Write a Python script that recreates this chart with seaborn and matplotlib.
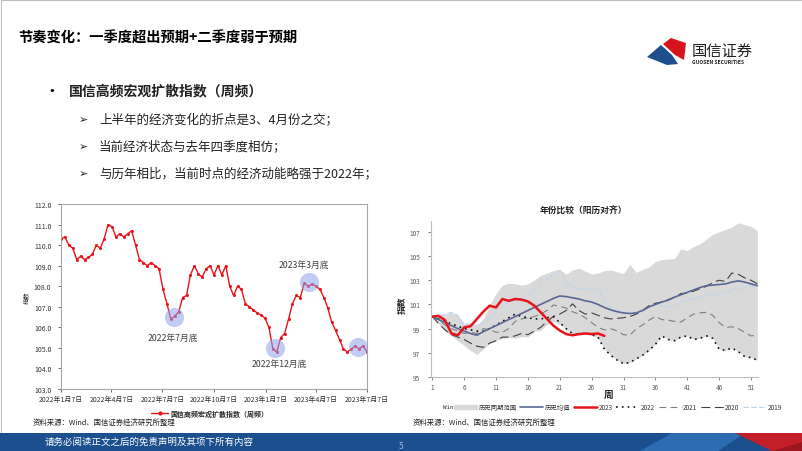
import numpy as np
import pandas as pd
import seaborn as sns
import matplotlib.pyplot as plt
from matplotlib.patches import Polygon, Rectangle, Patch
from matplotlib.lines import Line2D

W, H = 802, 452

# ---- left chart: weekly diffusion index ----
start_date = '2022-01-07'
diffusion = [110.3, 110.4, 110.0, 109.85, 109.3, 109.45, 109.3, 109.4, 109.55, 110.0,
             109.85, 110.3, 111.0, 110.9, 110.4, 110.55, 110.4, 110.55, 110.7, 110.0,
             109.3, 109.15, 109.0, 109.15, 109.0, 108.85, 107.85, 107.15, 106.4, 106.55,
             106.75, 107.45, 107.55, 108.55, 109.0, 108.6, 108.45, 108.85, 109.0, 108.55,
             109.0, 108.55, 109.0, 108.0, 107.55, 108.0, 107.85, 107.15, 107.0, 106.85,
             106.7, 106.6, 106.45, 106.0, 104.95, 104.8, 105.5, 105.7, 106.4, 107.15,
             107.55, 107.45, 108.15, 108.0, 108.1, 108.0, 107.85, 107.45, 106.95, 106.25,
             105.85, 105.4, 104.95, 104.8, 104.95, 105.1, 104.95, 105.1, 104.8]
left_tick_dates = ['2022-01-07', '2022-04-07', '2022-07-07', '2022-10-07',
                   '2023-01-07', '2023-04-07', '2023-07-07']
left_tick_labels = ['2022年1月7日', '2022年4月7日', '2022年7月7日', '2022年10月7日',
                    '2023年1月7日', '2023年4月7日', '2023年7月7日']
circle_dates = ['2022-07-27', '2023-01-23', '2023-03-26', '2023-06-21']
circle_vals = [106.52, 105.0, 108.22, 105.03]
note_texts = ['2022年7月底', '2022年12月底', '2023年3月底']
note_dates = ['2022-07-25', '2023-02-01', '2023-03-17']
note_vals = [105.5, 104.27, 109.05]

# ---- right chart: year comparison by week ----
weeks = list(range(1, 53))
band_upper = [100.0, 100.1, 100.2, 100.35, 100.1, 99.4, 99.45, 99.3, 99.8, 100.95,
              101.9, 102.6, 102.75, 102.7, 102.6, 102.7, 103.0, 103.4, 103.6, 103.8,
              103.9, 103.5, 103.85, 104.0, 103.75, 103.5, 103.6, 103.8, 103.85, 103.7,
              103.55, 104.3, 103.65, 103.9, 104.1, 104.55, 104.7, 104.75, 104.8, 105.6,
              105.45, 105.8, 106.0, 106.4, 106.8, 107.0, 107.2, 107.4, 107.75, 107.6,
              107.45, 107.1]
band_lower = [100.0, 99.4, 98.8, 98.4, 98.0, 97.6, 97.2, 96.85, 97.3, 97.8,
              98.0, 98.2, 98.25, 98.2, 98.35, 98.3, 98.75, 98.85, 99.35, 99.6,
              99.35, 98.95, 98.55, 98.45, 98.55, 98.45, 98.25, 97.3, 96.8, 96.4,
              96.1, 96.2, 96.5, 96.8, 97.2, 97.7, 98.4, 98.1, 98.0, 98.3,
              98.4, 98.1, 98.2, 98.4, 98.2, 97.3, 97.2, 97.4, 97.1, 96.7,
              96.6, 96.4]
hist_mean = [100.0, 99.75, 99.5, 99.25, 99.0, 98.8, 98.6, 98.45, 98.75, 99.0,
             99.25, 99.5, 99.75, 100.0, 100.25, 100.5, 100.75, 101.0, 101.25, 101.5,
             101.7, 101.65, 101.55, 101.45, 101.3, 101.2, 101.0, 100.75, 100.55, 100.4,
             100.3, 100.25, 100.3, 100.5, 100.8, 101.0, 101.2, 101.35, 101.6, 101.8,
             102.0, 102.2, 102.4, 102.55, 102.6, 102.65, 102.7, 102.85, 102.95, 102.85,
             102.7, 102.55]
y2023 = [100.0, 100.05, 99.7, 98.6, 98.45, 99.1, 99.2, 99.8, 100.4, 100.9,
         100.75, 101.45, 101.3, 101.45, 101.4, 101.25, 100.9, 100.35, 99.8, 99.25,
         98.85, 98.55, 98.45, 98.55, 98.6, 98.55, 98.6, 98.4]
y2022 = [100.0, 99.8, 99.6, 99.4, 99.2, 99.0, 98.9, 98.8, 98.8, 99.0,
         99.3, 99.6, 99.9, 100.2, 100.0, 99.9, 99.8, 99.8, 99.9, 100.0,
         99.5, 99.0, 98.6, 98.5, 98.6, 98.5, 98.3, 97.3, 96.8, 96.4,
         96.1, 96.2, 96.5, 96.8, 97.2, 97.7, 98.4, 98.1, 98.0, 98.3,
         98.4, 98.1, 98.2, 98.4, 98.2, 97.3, 97.2, 97.4, 97.1, 96.7,
         96.6, 96.4]
y2021 = [100.0, 99.7, 99.3, 99.0, 98.8, 98.6, 98.7, 98.6, 99.0, 98.9,
         98.7, 98.7, 99.0, 99.6, 99.8, 99.9, 100.0, 100.2, 100.5, 100.95,
         100.85, 100.7, 100.4, 100.2, 99.9, 99.5, 99.1, 98.9, 99.0, 98.8,
         98.5, 98.45, 99.0, 99.3, 99.7, 100.0, 99.75, 99.7, 99.6, 99.55,
         99.9, 100.2, 100.3, 100.35, 100.1, 99.5, 99.1, 99.15, 99.0, 98.7,
         98.4, 98.45]
y2020 = [100.0, 99.4, 98.9, 98.5, 98.3, 98.1, 97.8, 97.55, 97.45, 97.8,
         98.0, 98.3, 98.3, 98.4, 98.6, 98.5, 98.8, 99.1, 99.6, 100.0,
         100.2, 100.5, 101.05, 100.5, 100.2, 100.3, 100.1, 99.9, 99.8, 99.85,
         99.9, 100.0, 100.2, 100.5, 100.9, 101.1, 101.2, 101.4, 101.6, 101.9,
         101.95, 102.1, 102.3, 102.5, 102.8, 103.0, 102.9, 103.6, 103.5, 103.2,
         103.0, 102.7]
y2019 = [100.0, 100.1, 100.2, 100.35, 100.1, 99.35, 99.4, 99.25, 99.5, 99.8,
         100.4, 100.9, 101.2, 101.3, 101.5, 101.8, 102.2, 102.7, 103.1, 103.5,
         103.8, 103.0, 102.4, 102.3, 102.3, 102.4, 102.3, 101.3, 100.7, 100.5,
         100.4, 100.3, 100.3, 100.6, 100.8, 101.0, 100.9, 100.8, 100.9, 101.2,
         101.4, 101.5, 101.6, 101.7, 101.8, 101.9, 102.0, 102.2, 102.3, 102.4,
         102.5, 102.6]
right_xticks = list(range(1, 52, 5))
right_yticks = list(range(95, 108, 2))

RED = '#E8141B'
GRAY_TXT = '#595959'

sns.set_theme(style='white')
plt.rcParams['font.family'] = ['Noto Sans CJK SC', 'DejaVu Sans']
plt.rcParams['axes.unicode_minus'] = False

fig = plt.figure(figsize=(W / 100, H / 100), dpi=100)

# background layer in pixel coordinates
bg = fig.add_axes([0, 0, 1, 1])
bg.set_xlim(0, W)
bg.set_ylim(H, 0)
bg.axis('off')
bg.add_patch(Rectangle((0.5, 0.5), W - 1, H - 1, fill=False, ec='#BFBFBF', lw=0.8))

bg.text(18, 39, '节奏变化：一季度超出预期+二季度弱于预期', fontsize=10.3, weight='bold',
        va='center', ha='left', color='black')

# logo
bg.add_patch(Polygon([(647, 58), (661, 46), (672, 56), (678, 65), (667, 66)],
                     closed=True, color='#1F4E8C', lw=0))
bg.add_patch(Polygon([(663, 45), (671, 39), (686, 44), (684, 61), (675, 56)],
                     closed=True, color='#D7141E', lw=0))
bg.text(692, 51, '国信证券', fontsize=11, va='center', ha='left', color='#222222')
bg.text(692, 62, 'GUOSEN SECURITIES', fontsize=3.6, weight='bold', va='center',
        ha='left', color='#222222')

# bullets
bg.text(52, 91, '•', fontsize=12, va='center', ha='center', color='black')
bg.text(69, 91, '国信高频宏观扩散指数（周频）', fontsize=10, weight='bold', va='center',
        ha='left', color='#222222')
bullet_lines = ['上半年的经济变化的折点是3、4月份之交；', '当前经济状态与去年四季度相仿；',
                '与历年相比，当前时点的经济动能略强于2022年；']
for i, line in enumerate(bullet_lines):
    yy = 120 + i * 27
    bg.text(83, yy, '➢', fontsize=8, va='center', ha='center', color='#222222',
            family=['DejaVu Sans'])
    bg.text(99, yy, line, fontsize=9, va='center', ha='left', color='#222222')

# sources
bg.text(33, 423, '资料来源：Wind、国信证券经济研究所整理', fontsize=5.3, va='center',
        ha='left', color='#222222')
bg.text(413, 423, '资料来源：Wind、国信证券经济研究所整理', fontsize=5.3, va='center',
        ha='left', color='#222222')

# footer
bg.add_patch(Rectangle((0, 434), W, 18, color='#1B4F8E', lw=0))
bg.add_patch(Polygon([(640, 452), (672, 434), (745, 434), (718, 452)], closed=True,
                     color='#2D6CB0', lw=0))
bg.add_patch(Polygon([(735, 434), (802, 434), (802, 452), (772, 452)], closed=True,
                     color='#C41E2A', lw=0))
bg.add_patch(Polygon([(772, 452), (802, 443), (802, 452)], closed=True,
                     color='#9C1620', lw=0))
bg.text(45, 442, '请务必阅读正文之后的免责声明及其项下所有内容', fontsize=6.8,
        va='center', ha='left', color='white')
bg.text(401, 447, '5', fontsize=6, va='center', ha='center', color='#9DB5D6')

# ---- left chart ----
ax1 = fig.add_axes([61 / W, 1 - 390 / H, 306 / W, 185 / H])
df_left = pd.DataFrame({'date': pd.date_range(start_date, periods=len(diffusion), freq='7D'),
                        'value': diffusion})
sns.lineplot(data=df_left, x='date', y='value', ax=ax1, color=RED, lw=1.0,
             marker='o', markersize=2.2, markeredgewidth=0)
ax1.scatter(pd.to_datetime(circle_dates), circle_vals, s=190, color='#8FA3EE',
            alpha=0.55, lw=0, zorder=4)
for t, d, v in zip(note_texts, note_dates, note_vals):
    ax1.text(pd.Timestamp(d), v, t, fontsize=6.3, ha='center', va='center', color='#404040')
ax1.set_xlim(pd.Timestamp('2022-01-07'), pd.Timestamp('2023-07-07'))
ax1.set_ylim(103, 112)
ax1.set_yticks(range(103, 113))
ax1.set_yticklabels([f'{v:.1f}' for v in range(103, 113)])
ax1.set_xticks(pd.to_datetime(left_tick_dates))
ax1.set_xticklabels(left_tick_labels)
ax1.tick_params(axis='both', labelsize=5, colors='#333333', length=2, width=0.5,
                direction='out', pad=2, bottom=True, left=True)
ax1.tick_params(axis='y', pad=5)
ax1.set_xlabel('')
ax1.set_ylabel('指数', fontsize=4.5, labelpad=3)
for s in ax1.spines.values():
    s.set_color('#A6A6A6')
    s.set_linewidth(0.8)
ax1.legend(handles=[Line2D([], [], color=RED, lw=1, marker='o', markersize=2)],
           labels=['国信高频宏观扩散指数（周频）'], loc='center',
           bbox_to_anchor=(210 / W, 1 - 414 / H), bbox_transform=fig.transFigure,
           frameon=False, prop={'weight': 'bold', 'size': 5}, handlelength=2.4,
           handletextpad=0.4)

# ---- right chart ----
ax2 = fig.add_axes([431 / W, 1 - 378 / H, 327 / W, 156 / H])
ax2.fill_between(weeks, band_lower, band_upper, color='#D9D9D9', lw=0, zorder=1)
sns.lineplot(x=weeks, y=y2019, ax=ax2, color='#BDD7EE', lw=0.8, linestyle=(0, (5, 2)))
sns.lineplot(x=weeks, y=y2020, ax=ax2, color='#404040', lw=0.8, linestyle=(0, (8, 4)))
sns.lineplot(x=weeks, y=y2021, ax=ax2, color='#7F7F7F', lw=0.8, linestyle=(0, (6, 4)))
sns.lineplot(x=weeks, y=y2022, ax=ax2, color='#111111', lw=1.2, linestyle=(0, (1, 2.5)))
sns.lineplot(x=weeks, y=hist_mean, ax=ax2, color='#5A6796', lw=1.2)
sns.lineplot(x=weeks[:len(y2023)], y=y2023, ax=ax2, color=RED, lw=1.8)
ax2.set_xlim(0.8, 52.1)
ax2.set_ylim(95, 107.9)
ax2.set_xticks(right_xticks)
ax2.set_yticks(right_yticks)
ax2.tick_params(axis='both', labelsize=4.6, colors=GRAY_TXT, length=2, width=0.5,
                direction='out', pad=2, bottom=True, left=True)
ax2.tick_params(axis='y', pad=6)
for side in ['top', 'right']:
    ax2.spines[side].set_visible(False)
for side in ['left', 'bottom']:
    ax2.spines[side].set_color('#BFBFBF')
    ax2.spines[side].set_linewidth(0.8)
ax2.set_xlabel('')
ax2.set_ylabel('')

bg.text(583, 210, '年份比较（阳历对齐）', fontsize=6.3, weight='bold', ha='center',
        va='center', color='#222222')
bg.text(609, 395, '周', fontsize=7, weight='bold', ha='center', va='center', color='#222222')
bg.text(402, 305, '指数', fontsize=6.3, weight='bold', ha='center', va='center',
        rotation=90, color='#222222')
bg.text(448, 408, 'Win', fontsize=4.2, ha='center', va='center', color='#333333',
        family=['DejaVu Sans Mono'])

handles = [Patch(color='#D9D9D9'),
           Line2D([], [], color='#5A6796', lw=1.2),
           Line2D([], [], color=RED, lw=1.8),
           Line2D([], [], color='#111111', lw=1.2, linestyle=(0, (1, 2.5))),
           Line2D([], [], color='#7F7F7F', lw=0.8, linestyle=(0, (6, 4))),
           Line2D([], [], color='#404040', lw=0.8, linestyle=(0, (8, 4))),
           Line2D([], [], color='#BDD7EE', lw=0.8, linestyle=(0, (5, 2)))]
labels = ['历史同期范围', '历史均值', '2023', '2022', '2021', '2020', '2019']
ax2.legend(handles=handles, labels=labels, loc='center', ncol=7,
           bbox_to_anchor=(618 / W, 1 - 408 / H), bbox_transform=fig.transFigure,
           frameon=False, fontsize=4.6, handlelength=3.6, handletextpad=0.2,
           columnspacing=0.6, labelcolor='#333333')

fig.savefig('out.png', dpi=100)
